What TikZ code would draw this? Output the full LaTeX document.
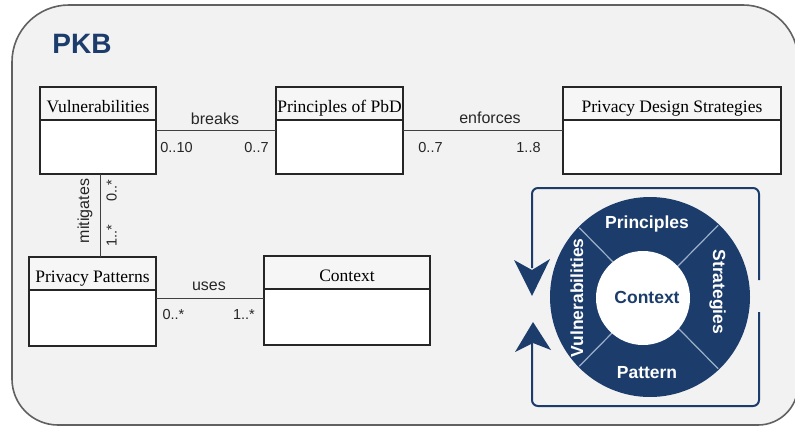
\documentclass[tikz,border=0pt]{standalone}
\usepackage{fontspec}
\setmainfont{Liberation Serif}
\setsansfont{Liberation Sans}
\definecolor{navy}{HTML}{1C3D6C}
\definecolor{bggray}{HTML}{F2F2F2}
\definecolor{hdrgray}{HTML}{F6F6F6}
\definecolor{divblue}{HTML}{9DB0CA}
\tikzset{
 panel/.style={draw=black!62, line width=1.6pt, fill=bggray},
 umlbox/.style={draw=black!85, line width=1.1pt, inner sep=0pt, outer sep=0pt},
 umlline/.style={draw=black!85, line width=1.1pt},
 umltitle/.style={font=\fontsize{17.5}{20}\selectfont, inner sep=0pt},
 assoc/.style={draw=black!75, line width=1pt},
 rolelabel/.style={font=\sffamily\fontsize{16}{18}\selectfont, text=black!85, inner sep=0pt},
 mult/.style={font=\sffamily\fontsize{14.5}{16}\selectfont, text=black!85, inner sep=0pt},
 ringtext/.style={font=\sffamily\bfseries\fontsize{17.5}{20}\selectfont, text=white, inner sep=0pt},
 frameline/.style={draw=navy, line width=2pt},
 divline/.style={draw=divblue, line width=1.2pt},
}
% name, x1, y1, x2, y2, header line y, title
\newcommand\umlclass[7]{%
  \fill[white] (#2,#3) rectangle (#4,#5);
  \fill[hdrgray] (#2,#3) rectangle (#4,#6);
  \node[umlbox, minimum width={(#4-#2)*1pt}, minimum height={(#5-#3)*1pt}] (#1) at ({(#2+#4)/2},{(#3+#5)/2}) {};
  \draw[umlline] (#2,#6) -- (#4,#6);
  \node[umltitle, anchor=base] (#1-title) at ({(#2+#4)/2},#6-8) {#7};
}
\begin{document}
\begin{tikzpicture}[x=1pt,y=-1pt]
\useasboundingbox (0,0) rectangle (795,428);
\fill[white] (0,0) rectangle (795,428);
% outer panel
\draw[panel] (12,200)
  {[rounded corners=57pt] -- (12,5) -- (400,5)}
  {[rounded corners=55pt] -- (798,5) -- (798,200)}
  {[rounded corners=40pt] -- (798,425) -- (400,425)}
  {[rounded corners=46pt] -- (12,425) -- (12,300)} -- cycle;
\node[font=\sffamily\bfseries\fontsize{28}{32}\selectfont, text=navy, anchor=base, inner sep=0pt] (pkb) at (82,53) {PKB};

% UML classes
\umlclass{vuln}{40}{87}{156}{174}{120}{Vulnerabilities}
\umlclass{pbd}{276}{87}{403}{174}{120}{Principles of PbD}
\umlclass{pds}{563}{87}{781}{174}{120}{Privacy Design Strategies}
\umlclass{pp}{29}{257}{156}{346}{290}{Privacy Patterns}
\umlclass{ctx}{264}{256}{430}{345}{289}{Context}

% associations
\draw[assoc] (vuln.east) -- (pbd.west);
\draw[assoc] (pbd.east) -- (pds.west);
\coordinate (m1) at ([xshift=2pt]vuln.south);
\draw[assoc] (m1) -- (m1 |- pp.north);
\coordinate (u1) at ([yshift=3.5pt]pp.east);
\draw[assoc] (u1) -- (u1 -| ctx.west);

\node[rolelabel, anchor=base] (lbreaks) at (215,124) {breaks};
\node[mult, anchor=base] (m010) at (176.5,152) {0..10};
\node[mult, anchor=base] (m07a) at (256.5,152) {0..7};
\node[rolelabel, anchor=base] (lenf) at (490,123) {enforces};
\node[mult, anchor=base] (m07b) at (430.5,152) {0..7};
\node[mult, anchor=base] (m18) at (528.5,152) {1..8};
\node[rolelabel, anchor=base, rotate=90] (lmit) at (89,211) {mitigates};
\node[mult, anchor=base, rotate=90] (m0s) at (116.5,191) {0..*};
\node[mult, anchor=base, rotate=90] (m1s) at (116.5,236) {1..*};
\node[rolelabel, anchor=base] (luses) at (209,290) {uses};
\node[mult, anchor=base] (m0s2) at (173.5,319) {0..*};
\node[mult, anchor=base] (m1s2) at (244,319) {1..*};

% cycle diagram
\draw[frameline, rounded corners=6pt] (532,268) -- (532,188) -- (759,188) -- (759,280);
\draw[frameline, rounded corners=6pt] (532,343) -- (532,406) -- (759,406) -- (759,312);
\fill[navy] (532,296) -- (514,260) -- (532,270) -- (550,259) -- cycle;
\fill[navy] (533,322) -- (515,352) -- (533,343) -- (551,350) -- cycle;

\fill[navy] (650,297) circle[radius=100pt];
\begin{scope}
  \clip (650,297) circle[radius=99pt];
  \draw[divline] (547,195) -- (747,398);
  \draw[divline] (747,196) -- (547,399);
\end{scope}
\fill[white] (643,298) circle[radius=47pt];
\node[ringtext, anchor=base] (rprin) at (647,228) {Principles};
\node[ringtext, anchor=base] (rpat) at (647,378) {Pattern};
\node[ringtext, anchor=base, rotate=90] (rvul) at (583,298) {Vulnerabilities};
\node[ringtext, anchor=base, rotate=-90] (rstr) at (713,292) {Strategies};
\node[ringtext, anchor=base, text=navy] (rctx) at (647,303) {Context};
\end{tikzpicture}
\end{document}
